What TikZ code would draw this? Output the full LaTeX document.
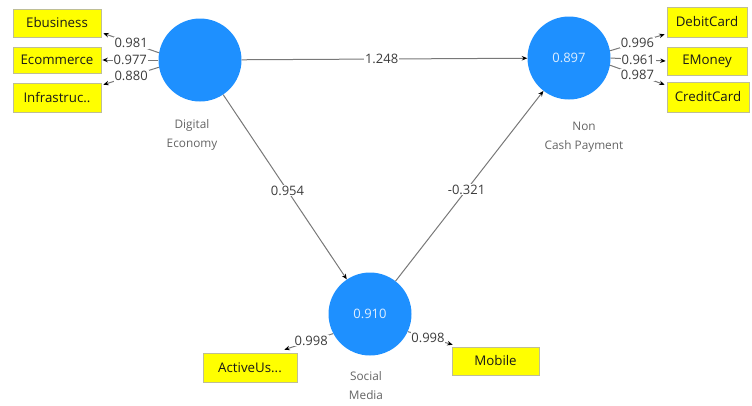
\documentclass[tikz,border=0pt]{standalone}
\usepackage{fontspec}
\setmainfont{Open Sans}
\usetikzlibrary{arrows.meta}
\definecolor{lvblue}{RGB}{30,144,255}
\definecolor{boxyellow}{RGB}{255,255,0}
\definecolor{boxedge}{RGB}{190,190,150}
\definecolor{linegray}{RGB}{120,120,120}
\definecolor{numgray}{RGB}{60,60,60}
\definecolor{namegray}{RGB}{100,100,100}
\tikzset{
  latent/.style={circle, fill=lvblue, draw=none, minimum size=83pt, inner sep=0pt,
    text=white!85!lvblue, font=\fontsize{13}{15}\selectfont},
  indic/.style={rectangle, fill=boxyellow, draw=boxedge, line width=0.6pt, inner sep=0pt,
    font=\fontsize{13.3}{15}\selectfont, text=black!90},
  lvname/.style={text=namegray, font=\fontsize{11.8}{19}\selectfont, align=center},
  conn/.style={draw=linegray, line width=1pt, -{Stealth[length=5.5pt,width=4.5pt,color=black]}},
  coef/.style={fill=white, inner sep=0.8pt, text=numgray, font=\fontsize{13}{15}\selectfont},
}
\begin{document}
\begin{tikzpicture}[x=1pt,y=-1pt]
\useasboundingbox (0,0) rectangle (752,405);
% latent variables
\node[latent] (de) at (200,60) {};
\node[latent] (ncp) at (569,58) {0.897};
\node[latent] (sm) at (370,314) {0.910};
% names
\node[lvname] (den) at (192,135) {Digital\\Economy};
\node[lvname] (ncpn) at (584,137) {Non\\Cash Payment};
\node[lvname] (smn) at (366,386) {Social\\Media};
% indicators
\node[indic, minimum width=88pt, minimum height=28pt] (eb) at (57,23) {Ebusiness};
\node[indic, minimum width=88pt, minimum height=26pt] (ec) at (57,60) {Ecommerce};
\node[indic, minimum width=88pt, minimum height=29pt] (inf) at (57,97.5) {Infrastruc..};
\node[indic, minimum width=80pt, minimum height=30pt] (dc) at (707,22) {DebitCard};
\node[indic, minimum width=80pt, minimum height=28pt] (em) at (707,61) {EMoney};
\node[indic, minimum width=82pt, minimum height=30pt] (cc) at (708,97) {CreditCard};
\node[indic, minimum width=94pt, minimum height=29pt] (au) at (250,367.5) {ActiveUs...};
\node[indic, minimum width=87pt, minimum height=28pt] (mo) at (495.5,361) {Mobile};
% structural paths
\draw[conn] (de) -- node[coef, pos=0.49] {1.248} (ncp);
\draw[conn] (de) -- node[coef, pos=0.52] {0.954} (sm);
\draw[conn] (sm) -- node[coef, pos=0.48] {-0.321} (ncp);
% outer loadings
\draw[conn] (de.170) -- node[coef] {0.981} ([shift={(2,-4)}]eb.south east);
\draw[conn] (de.west) -- node[coef] {0.977} ([shift={(1,0)}]ec.east);
\draw[conn] (de.190) -- node[coef] {0.880} ([shift={(2,2)}]inf.north east);
\draw[conn] (ncp.10) -- node[coef] {0.996} ([shift={(-2,-3)}]dc.south west);
\draw[conn] (ncp.east) -- node[coef] {0.961} ([shift={(-1,0)}]em.west);
\draw[conn] (ncp.-10) -- node[coef] {0.987} ([shift={(-2,3)}]cc.north west);
\draw[conn] (sm.208) -- node[coef, pos=0.45] {0.998} ([shift={(-13,-3)}]au.north east);
\draw[conn] (sm.-25) -- node[coef, pos=0.45] {0.998} ([shift={(1,-2)}]mo.north west);
\end{tikzpicture}
\end{document}
